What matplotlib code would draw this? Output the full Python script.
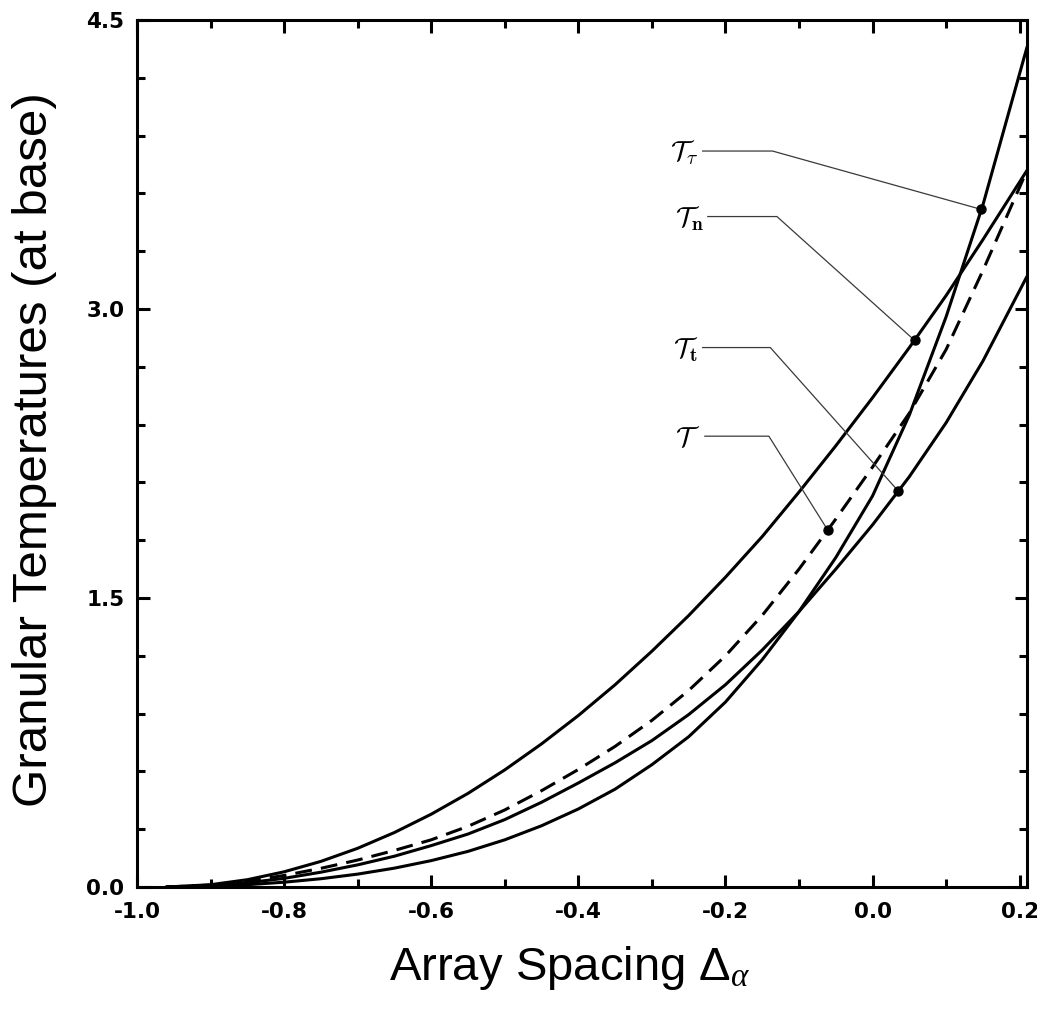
import numpy as np
import matplotlib
matplotlib.use("Agg")
import matplotlib.pyplot as plt
from matplotlib.ticker import MultipleLocator, FormatStrFormatter

plt.rcParams["mathtext.fontset"] = "custom"
plt.rcParams["mathtext.rm"] = "Liberation Sans"
plt.rcParams["mathtext.it"] = "Liberation Serif:italic"

# Array spacing values where the temperatures are sampled
spacing = [-0.96, -0.90, -0.85, -0.80, -0.75, -0.70, -0.65, -0.60, -0.55, -0.50,
           -0.45, -0.40, -0.35, -0.30, -0.25, -0.20, -0.15, -0.10, -0.05, 0.00,
           0.05, 0.10, 0.15, 0.21]

# Granular temperatures at the base
temp_n = [0.0, 0.012, 0.038, 0.079, 0.133, 0.201, 0.283, 0.378, 0.486, 0.608,
          0.743, 0.890, 1.050, 1.224, 1.409, 1.608, 1.819, 2.05, 2.29, 2.54,
          2.80, 3.07, 3.36, 3.72]
temp_mean = [0.0, 0.01, 0.03, 0.06, 0.097, 0.14, 0.19, 0.245, 0.315, 0.40,
             0.50, 0.61, 0.73, 0.865, 1.02, 1.20, 1.41, 1.65, 1.91, 2.18,
             2.46, 2.79, 3.20, 3.72]
temp_t = [0.0, 0.007, 0.022, 0.045, 0.077, 0.115, 0.16, 0.215, 0.275, 0.35,
          0.44, 0.54, 0.645, 0.76, 0.895, 1.05, 1.23, 1.43, 1.65, 1.88,
          2.13, 2.41, 2.73, 3.17]
temp_tau = [0.0, 0.004, 0.012, 0.025, 0.043, 0.067, 0.098, 0.137, 0.185, 0.245,
            0.318, 0.405, 0.508, 0.635, 0.78, 0.96, 1.18, 1.43, 1.71, 2.03,
            2.45, 2.96, 3.54, 4.36]

series_labels = [r"$\mathcal{T}_{\tau}$", r"$\mathcal{T}_{\mathbf{n}}$",
                 r"$\mathcal{T}_{\mathbf{t}}$", r"$\mathcal{T}$"]
series_values = [temp_tau, temp_n, temp_t, temp_mean]
series_styles = ["-", "-", "-", (0, (5.5, 3.0))]

# Callout layout: label line start (x, y), elbow x, marked point x
callouts = [(-0.231, 3.82, -0.136, 0.148),
            (-0.224, 3.48, -0.130, 0.057),
            (-0.231, 2.80, -0.139, 0.035),
            (-0.228, 2.34, -0.141, -0.061)]

fig = plt.figure(figsize=(10.37, 10.27), dpi=100)
ax = fig.add_axes([0.1321, 0.1363, 0.8583, 0.8442])

for vals, ls in zip(series_values, series_styles):
    ax.plot(spacing, vals, color="black", lw=2.2, linestyle=ls,
            solid_joinstyle="round", solid_capstyle="round")

for label, vals, (lx, ly, ex, dx) in zip(series_labels, series_values, callouts):
    dy = float(np.interp(dx, spacing, vals))
    ax.plot([lx, ex, dx], [ly, ly, dy], color="#3a3a3a", lw=0.9, zorder=3)
    ax.plot([dx], [dy], "o", color="black", ms=6.5, zorder=4)
    ax.annotate(label, xy=(lx, ly), xytext=(-3, -7), textcoords="offset points",
                ha="right", va="baseline", fontsize=20, math_fontfamily="cm")

ax.set_xlim(-1.0, 0.21)
ax.set_ylim(0.0, 4.5)
ax.xaxis.set_major_locator(MultipleLocator(0.2))
ax.xaxis.set_minor_locator(MultipleLocator(0.1))
ax.yaxis.set_major_locator(MultipleLocator(1.5))
ax.yaxis.set_minor_locator(MultipleLocator(0.3))
ax.xaxis.set_major_formatter(FormatStrFormatter("%.1f"))
ax.yaxis.set_major_formatter(FormatStrFormatter("%.1f"))

ax.tick_params(which="both", direction="in", top=True, right=True, width=2.2)
ax.tick_params(which="major", length=9)
ax.tick_params(which="minor", length=5.5)
ax.tick_params(axis="x", which="major", pad=11, labelsize=15.5)
ax.tick_params(axis="y", which="major", pad=9, labelsize=15.5)
for lbl in ax.get_xticklabels() + ax.get_yticklabels():
    lbl.set_fontweight("bold")
    lbl.set_family("DejaVu Sans")

for sp in ax.spines.values():
    sp.set_linewidth(2.2)

ax.text(0.486, -0.093, r"Array Spacing $\Delta_\alpha$", transform=ax.transAxes,
        ha="center", va="center", fontsize=34, family="Liberation Sans",
        math_fontfamily="custom")
ax.text(-0.115, 0.504, "Granular Temperatures (at base)", transform=ax.transAxes,
        rotation=90, ha="center", va="center", fontsize=35.5, family="Liberation Sans")

fig.savefig("out.png", dpi=100, facecolor="white")
